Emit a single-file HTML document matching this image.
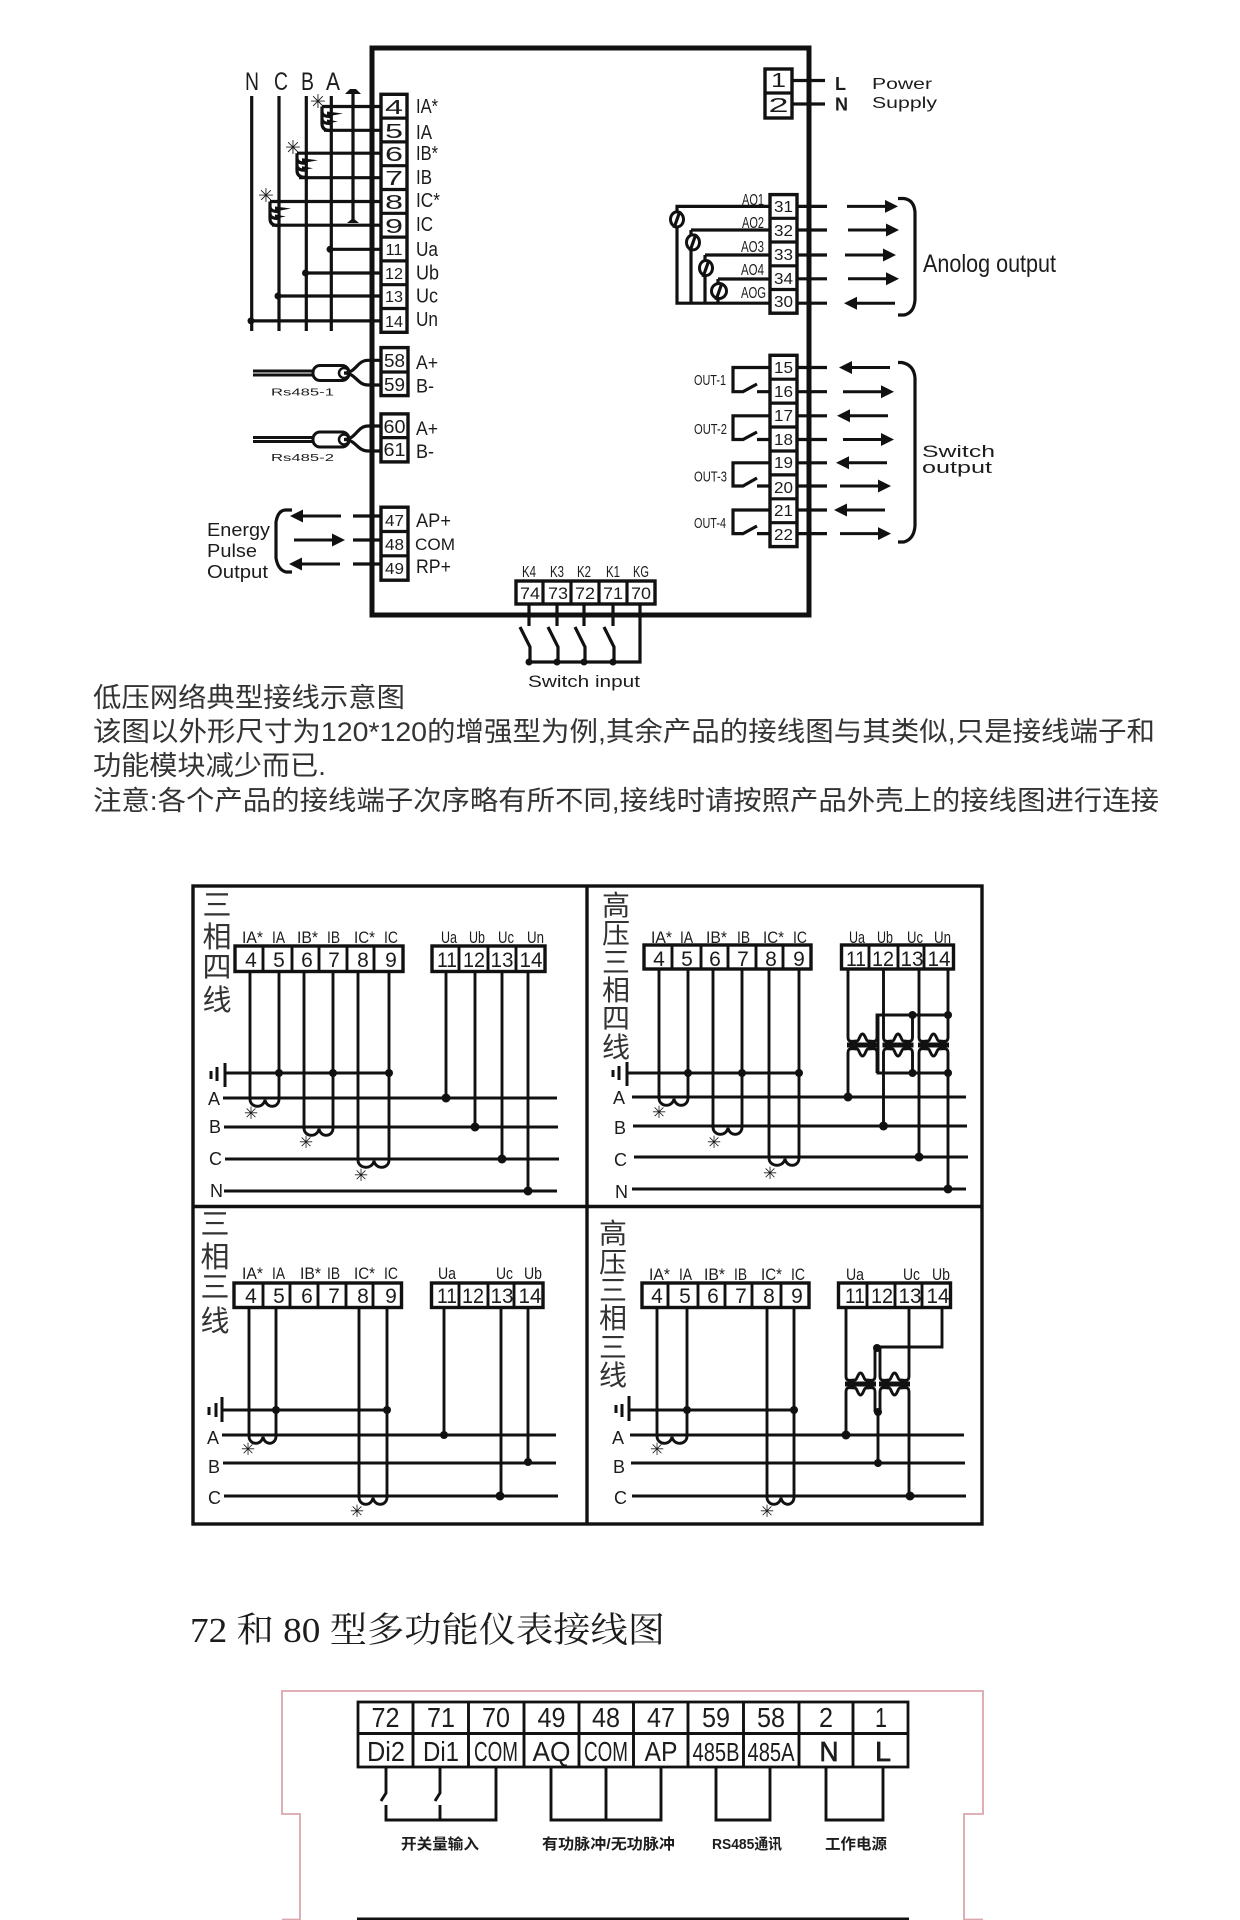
<!DOCTYPE html>
<html lang="zh">
<head>
<meta charset="utf-8">
<title>Wiring diagram</title>
<style>
html,body{margin:0;padding:0;background:#fff;width:1240px;height:1920px;overflow:hidden}
svg{display:block}
text{font-family:"Liberation Sans","Noto Sans CJK SC",sans-serif;fill:#1c1c1c}
.w{fill:none;stroke:#111;stroke-width:3.2}
.p{fill:none;stroke:#111;stroke-width:2.9}
.t{fill:#fff;stroke:#111;stroke-width:3.4}
.b{fill:#111;stroke:none}
.cj{font-family:"Liberation Sans","Noto Sans CJK SC",sans-serif;font-weight:400;fill:#333}
.m{text-anchor:middle}
</style>
</head>
<body>
<svg xmlns="http://www.w3.org/2000/svg" width="1240" height="1920" viewBox="0 0 1240 1920">
<defs>
<path id="ar" class="b" d="M0 -1.500H38V-6.500L51 0L38 6.500V1.500H0Z"/>
<path id="al" class="b" d="M0 -1.500H-38V-6.500L-51 0L-38 6.500V1.500H0Z"/>
<g id="coil"><path d="M0 0V17Q0 24 8 24" fill="none" stroke="#111" stroke-width="3.200"/><path d="M0 6Q1 10 8 10M0 13Q1 17 8 17" fill="none" stroke="#111" stroke-width="3.200"/><path class="b" d="M5 5L21 7L5 10Z"/><path class="b" d="M5 13L16 15L5 17Z"/></g>
<g id="pt"><path class="p" d="M0 -14V-8C0 -2 4 -4 9 -4C11 -4 12 -11 14.500 -11C17 -11 18 -4 20 -4C25 -4 29 -2 29 -8V-14"/><path class="p" d="M0 14V8C0 2 4 4 9 4C11 4 12 11 14.500 11C17 11 18 4 20 4C25 4 29 2 29 8V14"/><rect class="b" x="-1" y="-2.500" width="31" height="5"/></g>
<g id="rs"><path class="b" d="M0 -3.500H62V3.500H0Z"/><path d="M0 0H62" stroke="#fff" stroke-width="1"/><rect x="60" y="-7.500" width="36" height="15" rx="7" fill="#fff" stroke="#111" stroke-width="3"/><circle cx="91" cy="0" r="5" fill="#fff" stroke="#111" stroke-width="2.500"/></g>
</defs>

<!-- main box -->
<rect x="372" y="48" width="437" height="567" fill="#fff" stroke="#111" stroke-width="5"/>

<!-- phase labels -->
<text x="245" y="90" font-size="25" textLength="14" lengthAdjust="spacingAndGlyphs">N</text>
<text x="274" y="90" font-size="25" textLength="14" lengthAdjust="spacingAndGlyphs">C</text>
<text x="301" y="90" font-size="25" textLength="13" lengthAdjust="spacingAndGlyphs">B</text>
<text x="326" y="90" font-size="25" textLength="14" lengthAdjust="spacingAndGlyphs">A</text>

<!-- phase bus -->
<path class="w" d="M251.700 96V331M279 96V331M306.300 96V331M331.300 96V331"/>
<path class="w" d="M353 93V221"/>
<path class="b" d="M345 94L350 89H356L361 94Z"/>
<path class="b" d="M347 223L353 218L359 223Z"/>
<path class="w" d="M322 106.500H381M324 130.300H381M297 153.200H381M299 177.700H381M270 201.500H381M272 225.200H381"/>
<path class="w" d="M331 249.300H381M306 273H381M279 296H381M248 320.900H381"/>
<circle class="b" cx="330" cy="249.300" r="3.500"/><circle class="b" cx="305.500" cy="273" r="3.500"/><circle class="b" cx="278" cy="296" r="3.500"/><circle class="b" cx="251" cy="320.900" r="3.500"/>
<use href="#coil" x="322" y="106.500"/><use href="#coil" x="297" y="153.200"/><use href="#coil" x="270" y="201.500"/>
<text class="m" x="318" y="108" font-size="19" style="font-family:'DejaVu Sans',sans-serif">✳</text>
<text class="m" x="293" y="154" font-size="19" style="font-family:'DejaVu Sans',sans-serif">✳</text>
<text class="m" x="266" y="202" font-size="19" style="font-family:'DejaVu Sans',sans-serif">✳</text>

<!-- left terminals -->
<rect class="t" x="381" y="94.300" width="26" height="238"/>
<path class="w" d="M381 118.100H407M381 141.900H407M381 165.700H407M381 189.500H407M381 213.300H407M381 237.100H407M381 260.900H407M381 284.700H407M381 308.500H407"/>
<g font-size="20" class="m">
<text x="394" y="114" textLength="18" lengthAdjust="spacingAndGlyphs">4</text>
<text x="394" y="138" textLength="18" lengthAdjust="spacingAndGlyphs">5</text>
<text x="394" y="161" textLength="18" lengthAdjust="spacingAndGlyphs">6</text>
<text x="394" y="185" textLength="18" lengthAdjust="spacingAndGlyphs">7</text>
<text x="394" y="209" textLength="18" lengthAdjust="spacingAndGlyphs">8</text>
<text x="394" y="233" textLength="18" lengthAdjust="spacingAndGlyphs">9</text>
</g>
<g font-size="16" class="m">
<text x="394" y="255" textLength="17" lengthAdjust="spacingAndGlyphs">11</text>
<text x="394" y="279" textLength="18" lengthAdjust="spacingAndGlyphs">12</text>
<text x="394" y="302" textLength="18" lengthAdjust="spacingAndGlyphs">13</text>
<text x="394" y="327" textLength="18" lengthAdjust="spacingAndGlyphs">14</text>
</g>
<g font-size="20">
<text x="416" y="113" textLength="22" lengthAdjust="spacingAndGlyphs">IA*</text>
<text x="416" y="139" textLength="16" lengthAdjust="spacingAndGlyphs">IA</text>
<text x="416" y="160" textLength="22" lengthAdjust="spacingAndGlyphs">IB*</text>
<text x="416" y="184" textLength="16" lengthAdjust="spacingAndGlyphs">IB</text>
<text x="416" y="207" textLength="24" lengthAdjust="spacingAndGlyphs">IC*</text>
<text x="416" y="231" textLength="17" lengthAdjust="spacingAndGlyphs">IC</text>
<text x="416" y="256" textLength="22" lengthAdjust="spacingAndGlyphs">Ua</text>
<text x="416" y="279.500" textLength="23" lengthAdjust="spacingAndGlyphs">Ub</text>
<text x="416" y="302.500" textLength="22" lengthAdjust="spacingAndGlyphs">Uc</text>
<text x="416" y="326" textLength="22" lengthAdjust="spacingAndGlyphs">Un</text>
</g>

<!-- RS485 -->
<use href="#rs" x="253" y="373"/>
<path class="w" d="M344 373C356 373 357 360.300 368 360.300H381M344 373C356 373 357 385 368 385H381"/>
<use href="#rs" x="253" y="439.500"/>
<path class="w" d="M344 439.500C356 439.500 357 426 368 426H381M344 439.500C356 439.500 357 451 368 451H381"/>
<rect class="t" x="381" y="347.600" width="27" height="48"/><path class="w" d="M381 372H408"/>
<rect class="t" x="381" y="413.900" width="27" height="48"/><path class="w" d="M381 437.600H408"/>
<g font-size="18" class="m">
<text x="394.500" y="367" textLength="21" lengthAdjust="spacingAndGlyphs">58</text>
<text x="394.500" y="391" textLength="21" lengthAdjust="spacingAndGlyphs">59</text>
<text x="394.500" y="433" textLength="22" lengthAdjust="spacingAndGlyphs">60</text>
<text x="394.500" y="456" textLength="22" lengthAdjust="spacingAndGlyphs">61</text>
</g>
<g font-size="19">
<text x="416" y="369" textLength="22" lengthAdjust="spacingAndGlyphs">A+</text>
<text x="416" y="392.500" textLength="18" lengthAdjust="spacingAndGlyphs">B-</text>
<text x="416" y="435" textLength="22" lengthAdjust="spacingAndGlyphs">A+</text>
<text x="416" y="458" textLength="18" lengthAdjust="spacingAndGlyphs">B-</text>
</g>
<text x="271" y="395.500" font-size="10" textLength="63" lengthAdjust="spacingAndGlyphs">Rs485-1</text>
<text x="271" y="461" font-size="10" textLength="63" lengthAdjust="spacingAndGlyphs">Rs485-2</text>

<!-- energy pulse -->
<path class="w" d="M353 516H381M353 540H381M353 564H381"/>
<use href="#al" x="341" y="516"/><use href="#ar" x="294" y="540"/><use href="#al" x="340" y="564"/>
<path class="w" d="M292 510H286Q278 510 276 522V558Q278 570 286 572H292"/>
<rect class="t" x="381" y="507.200" width="27" height="73"/><path class="w" d="M381 531.500H408M381 555.800H408"/>
<g font-size="16" class="m">
<text x="394.500" y="526" textLength="19" lengthAdjust="spacingAndGlyphs">47</text>
<text x="394.500" y="550" textLength="19" lengthAdjust="spacingAndGlyphs">48</text>
<text x="394.500" y="574" textLength="19" lengthAdjust="spacingAndGlyphs">49</text>
</g>
<g font-size="19">
<text x="416" y="527" textLength="35" lengthAdjust="spacingAndGlyphs">AP+</text>
<text x="415" y="550" font-size="17" textLength="40" lengthAdjust="spacingAndGlyphs">COM</text>
<text x="416" y="573" textLength="35" lengthAdjust="spacingAndGlyphs">RP+</text>
</g>
<g font-size="18">
<text x="207" y="536" textLength="63" lengthAdjust="spacingAndGlyphs">Energy</text>
<text x="207" y="557" textLength="50" lengthAdjust="spacingAndGlyphs">Pulse</text>
<text x="207" y="578" textLength="61" lengthAdjust="spacingAndGlyphs">Output</text>
</g>

<!-- bottom terminals / switch input -->
<g font-size="16" class="m">
<text x="529" y="577" textLength="14" lengthAdjust="spacingAndGlyphs">K4</text>
<text x="557" y="577" textLength="14" lengthAdjust="spacingAndGlyphs">K3</text>
<text x="584" y="577" textLength="14" lengthAdjust="spacingAndGlyphs">K2</text>
<text x="613" y="577" textLength="14" lengthAdjust="spacingAndGlyphs">K1</text>
<text x="641" y="577" textLength="16" lengthAdjust="spacingAndGlyphs">KG</text>
</g>
<rect class="t" x="516" y="581" width="139" height="23"/>
<path class="w" d="M543 581V604M571 581V604M599 581V604M627 581V604"/>
<g font-size="17" class="m">
<text x="530" y="599" textLength="20" lengthAdjust="spacingAndGlyphs">74</text>
<text x="558" y="599" textLength="20" lengthAdjust="spacingAndGlyphs">73</text>
<text x="585" y="599" textLength="20" lengthAdjust="spacingAndGlyphs">72</text>
<text x="613" y="599" textLength="20" lengthAdjust="spacingAndGlyphs">71</text>
<text x="641" y="599" textLength="20" lengthAdjust="spacingAndGlyphs">70</text>
</g>
<path class="w" d="M529 604V626M557 604V626M584 604V626M613 604V626M640 604V662H529"/>
<path class="w" d="M520 627L530 647V662M548 627L558 647V662M575 627L585 647V662M604 627L614 647V662"/>
<circle class="b" cx="529" cy="662" r="3.500"/><circle class="b" cx="557" cy="662" r="3.500"/><circle class="b" cx="584" cy="662" r="3.500"/><circle class="b" cx="613" cy="662" r="3.500"/>
<text x="528" y="687" font-size="17" textLength="112" lengthAdjust="spacingAndGlyphs">Switch input</text>

<!-- power -->
<rect class="t" x="765" y="69" width="27" height="49"/><path class="w" d="M765 93H792"/>
<text class="m" x="778.500" y="87" font-size="20" textLength="15" lengthAdjust="spacingAndGlyphs">1</text>
<text class="m" x="778.500" y="112" font-size="20" textLength="20" lengthAdjust="spacingAndGlyphs">2</text>
<path class="w" d="M792 80.500H825M792 104H825"/>
<text x="835" y="90" font-size="18" font-weight="bold">L</text>
<text x="835" y="110.500" font-size="18" font-weight="bold">N</text>
<text x="872" y="89" font-size="16" textLength="60" lengthAdjust="spacingAndGlyphs">Power</text>
<text x="872" y="108" font-size="16" textLength="65" lengthAdjust="spacingAndGlyphs">Supply</text>

<!-- analog output -->
<path class="w" d="M770 206.400H677V303.200H770M691 230H770M691 230V303.200M705 255H770M705 255V303.200M718 279H770M718 279V303.200"/>
<g fill="#fff" stroke="#111" stroke-width="3"><ellipse cx="677" cy="219.400" rx="6.500" ry="7.500"/><ellipse cx="693" cy="242.400" rx="6.500" ry="7.500"/><ellipse cx="706" cy="268" rx="6.500" ry="7.500"/><ellipse cx="719" cy="291" rx="7.500" ry="7.500"/></g>
<path class="w" d="M680 211L674 228M696 234L690 251M709 260L703 277M722 283L716 300"/>
<g font-size="16">
<text x="742" y="205" textLength="22" lengthAdjust="spacingAndGlyphs">AO1</text>
<text x="742" y="228" textLength="22" lengthAdjust="spacingAndGlyphs">AO2</text>
<text x="741" y="252" textLength="23" lengthAdjust="spacingAndGlyphs">AO3</text>
<text x="741" y="275" textLength="23" lengthAdjust="spacingAndGlyphs">AO4</text>
<text x="741" y="298" textLength="25" lengthAdjust="spacingAndGlyphs">AOG</text>
</g>
<rect class="t" x="770" y="194.600" width="27" height="118.600"/>
<path class="w" d="M770 218.300H797M770 242H797M770 265.800H797M770 289.500H797"/>
<g font-size="16" class="m">
<text x="783.500" y="212" textLength="19" lengthAdjust="spacingAndGlyphs">31</text>
<text x="783.500" y="236" textLength="19" lengthAdjust="spacingAndGlyphs">32</text>
<text x="783.500" y="260" textLength="19" lengthAdjust="spacingAndGlyphs">33</text>
<text x="783.500" y="284" textLength="19" lengthAdjust="spacingAndGlyphs">34</text>
<text x="783.500" y="307" textLength="19" lengthAdjust="spacingAndGlyphs">30</text>
</g>
<path class="w" d="M797 206.400H827M797 230H827M797 255H827M797 278.800H827M797 303.200H827"/>
<use href="#ar" x="847" y="206.400"/><use href="#ar" x="848" y="230"/><use href="#ar" x="845" y="255"/><use href="#ar" x="848" y="278.800"/><use href="#al" x="895" y="303.200"/>
<path class="w" d="M898 198.500H904Q914 200 915 212V300Q914 313 904 315H898"/>
<text x="923" y="272" font-size="25" textLength="133" lengthAdjust="spacingAndGlyphs">Anolog output</text>

<!-- switch output -->
<path class="w" d="M770 367.500H733V391.700H743L757 384M757 391.700H770M770 415.800H733V439.500H743L757 432M757 439.500H770M770 462.800H733V486H743L757 478M757 486H770M770 510H733V533.600H743L757 526M757 533.600H770"/>
<g font-size="15">
<text x="694" y="385" textLength="32" lengthAdjust="spacingAndGlyphs">OUT-1</text>
<text x="694" y="434" textLength="33" lengthAdjust="spacingAndGlyphs">OUT-2</text>
<text x="694" y="481.500" textLength="33" lengthAdjust="spacingAndGlyphs">OUT-3</text>
<text x="694" y="528" textLength="32" lengthAdjust="spacingAndGlyphs">OUT-4</text>
</g>
<rect class="t" x="770" y="355.300" width="27" height="191.300"/>
<path class="w" d="M770 379.200H797M770 403.100H797M770 427H797M770 451H797M770 474.900H797M770 498.800H797M770 522.700H797"/>
<g font-size="16" class="m">
<text x="783.500" y="373" textLength="19" lengthAdjust="spacingAndGlyphs">15</text>
<text x="783.500" y="397" textLength="19" lengthAdjust="spacingAndGlyphs">16</text>
<text x="783.500" y="421" textLength="19" lengthAdjust="spacingAndGlyphs">17</text>
<text x="783.500" y="445" textLength="19" lengthAdjust="spacingAndGlyphs">18</text>
<text x="783.500" y="468" textLength="19" lengthAdjust="spacingAndGlyphs">19</text>
<text x="783.500" y="493" textLength="19" lengthAdjust="spacingAndGlyphs">20</text>
<text x="783.500" y="516" textLength="19" lengthAdjust="spacingAndGlyphs">21</text>
<text x="783.500" y="540" textLength="19" lengthAdjust="spacingAndGlyphs">22</text>
</g>
<path class="w" d="M797 367.500H827M797 391.700H827M797 415.800H827M797 439.500H827M797 462.800H827M797 486H827M797 510H827M797 533.600H827"/>
<use href="#al" x="890" y="367.500"/><use href="#ar" x="843" y="391.700"/><use href="#al" x="888" y="415.800"/><use href="#ar" x="843" y="439.500"/><use href="#al" x="887" y="462.800"/><use href="#ar" x="840" y="486"/><use href="#al" x="885" y="510"/><use href="#ar" x="840" y="533.600"/>
<path class="w" d="M898 362.500H902Q914 365 915 378V526Q914 539 904 542H898"/>
<text x="922" y="457" font-size="17" textLength="73" lengthAdjust="spacingAndGlyphs">Switch</text>
<text x="922" y="473" font-size="17" textLength="70" lengthAdjust="spacingAndGlyphs">output</text>

<!-- paragraph -->
<g class="cj" font-size="27">
<text class="cj" x="93" y="707" textLength="312" lengthAdjust="spacingAndGlyphs">低压网络典型接线示意图</text>
<text class="cj" x="93" y="741" textLength="1062" lengthAdjust="spacingAndGlyphs">该图以外形尺寸为120*120的增强型为例,其余产品的接线图与其类似,只是接线端子和</text>
<text class="cj" x="93" y="775" textLength="233" lengthAdjust="spacingAndGlyphs">功能模块减少而已.</text>
<text class="cj" x="93" y="810" textLength="1066" lengthAdjust="spacingAndGlyphs">注意:各个产品的接线端子次序略有所不同,接线时请按照产品外壳上的接线图进行连接</text>
</g>

<!-- panels frame -->
<rect x="193" y="886" width="789" height="638" fill="#fff" stroke="#111" stroke-width="3.400"/>
<path d="M193 1206.500H982M587 886V1524" stroke="#111" stroke-width="3.400" fill="none"/>

<!-- PANEL A -->
<g class="cj m" font-size="29">
<text class="cj m" x="217" y="915">三</text><text class="cj m" x="217" y="947">相</text><text class="cj m" x="217" y="977">四</text><text class="cj m" x="217" y="1010">线</text>
</g>
<g font-size="17">
<text x="242" y="943" textLength="21" lengthAdjust="spacingAndGlyphs">IA*</text><text x="272" y="943" textLength="13" lengthAdjust="spacingAndGlyphs">IA</text>
<text x="297" y="943" textLength="21" lengthAdjust="spacingAndGlyphs">IB*</text><text x="327" y="943" textLength="13" lengthAdjust="spacingAndGlyphs">IB</text>
<text x="354" y="943" textLength="21" lengthAdjust="spacingAndGlyphs">IC*</text><text x="384" y="943" textLength="14" lengthAdjust="spacingAndGlyphs">IC</text>
<text x="441" y="943" textLength="16" lengthAdjust="spacingAndGlyphs">Ua</text><text x="469" y="943" textLength="16" lengthAdjust="spacingAndGlyphs">Ub</text>
<text x="498" y="943" textLength="16" lengthAdjust="spacingAndGlyphs">Uc</text><text x="527" y="943" textLength="17" lengthAdjust="spacingAndGlyphs">Un</text>
</g>
<rect class="t" x="235" y="946" width="168" height="25.500"/><path class="p" d="M263 946V971M292 946V971M319 946V971M347 946V971M374 946V971"/>
<rect class="t" x="432" y="946" width="113" height="25.500"/><path class="p" d="M459 946V971M488 946V971M516 946V971"/>
<g font-size="21" class="m">
<text x="251" y="967">4</text><text x="279" y="967">5</text><text x="307" y="967">6</text><text x="334" y="967">7</text><text x="363" y="967">8</text><text x="391" y="967">9</text>
<text x="447" y="967" textLength="20" lengthAdjust="spacingAndGlyphs">11</text><text x="474" y="967" textLength="22" lengthAdjust="spacingAndGlyphs">12</text><text x="502" y="967" textLength="23" lengthAdjust="spacingAndGlyphs">13</text><text x="531" y="967" textLength="23" lengthAdjust="spacingAndGlyphs">14</text>
</g>
<path class="p" d="M225 1073H389M223 1098H557M224 1127H558M225 1159H559M224 1191H557"/>
<path class="p" style="stroke-width:3" d="M225 1063V1087M217 1067V1081M211 1071V1079"/>
<path class="p" d="M250 972V1099C250 1108 263 1109 265 1100C267 1109 279 1108 279 1099V972"/>
<path class="p" d="M304 972V1128C304 1137 317 1138 319 1129C321 1138 333 1137 333 1128V972"/>
<path class="p" d="M358 972V1160C358 1169 372 1170 374 1161C376 1170 389 1169 389 1160V972"/>
<path class="p" d="M446 972V1098M475 972V1127M502 972V1159M528 972V1191"/>
<g class="b"><circle cx="279" cy="1073" r="4"/><circle cx="333" cy="1073" r="4"/><circle cx="389" cy="1073" r="4"/><circle cx="446" cy="1098" r="4.500"/><circle cx="475" cy="1127" r="4.500"/><circle cx="502" cy="1159" r="4.500"/><circle cx="528" cy="1191" r="4.500"/></g>
<g font-size="17"><text class="m" style="font-family:'DejaVu Sans',sans-serif" x="251" y="1119">✳</text><text class="m" style="font-family:'DejaVu Sans',sans-serif" x="306" y="1148">✳</text><text class="m" style="font-family:'DejaVu Sans',sans-serif" x="361" y="1181">✳</text></g>
<g font-size="18"><text x="208" y="1105">A</text><text x="209" y="1133">B</text><text x="209" y="1165">C</text><text x="210" y="1197">N</text></g>

<!-- PANEL B -->
<g class="cj m" font-size="28">
<text class="cj m" x="616" y="915">高</text><text class="cj m" x="616" y="943">压</text><text class="cj m" x="616" y="972">三</text><text class="cj m" x="616" y="1000">相</text><text class="cj m" x="616" y="1028">四</text><text class="cj m" x="616" y="1057">线</text>
</g>
<g font-size="17">
<text x="651" y="943" textLength="21" lengthAdjust="spacingAndGlyphs">IA*</text><text x="680" y="943" textLength="13" lengthAdjust="spacingAndGlyphs">IA</text>
<text x="706" y="943" textLength="21" lengthAdjust="spacingAndGlyphs">IB*</text><text x="737" y="943" textLength="13" lengthAdjust="spacingAndGlyphs">IB</text>
<text x="763" y="943" textLength="21" lengthAdjust="spacingAndGlyphs">IC*</text><text x="793" y="943" textLength="14" lengthAdjust="spacingAndGlyphs">IC</text>
<text x="849" y="943" textLength="16" lengthAdjust="spacingAndGlyphs">Ua</text><text x="877" y="943" textLength="16" lengthAdjust="spacingAndGlyphs">Ub</text>
<text x="907" y="943" textLength="16" lengthAdjust="spacingAndGlyphs">Uc</text><text x="934" y="943" textLength="17" lengthAdjust="spacingAndGlyphs">Un</text>
</g>
<rect class="t" x="644" y="945" width="167" height="24"/><path class="p" d="M672 945V969M701 945V969M728 945V969M756 945V969M783 945V969"/>
<rect class="t" x="841.500" y="945" width="112" height="24"/><path class="p" d="M869 945V969M898 945V969M924 945V969"/>
<g font-size="21" class="m">
<text x="659" y="966">4</text><text x="687" y="966">5</text><text x="715" y="966">6</text><text x="743" y="966">7</text><text x="771" y="966">8</text><text x="799" y="966">9</text>
<text x="856" y="966" textLength="20" lengthAdjust="spacingAndGlyphs">11</text><text x="883" y="966" textLength="22" lengthAdjust="spacingAndGlyphs">12</text><text x="912" y="966" textLength="23" lengthAdjust="spacingAndGlyphs">13</text><text x="939" y="966" textLength="23" lengthAdjust="spacingAndGlyphs">14</text>
</g>
<path class="p" d="M628 1073H799M632 1097H966M633 1126H967M634 1157H968M632 1189H966"/>
<path class="p" style="stroke-width:3" d="M627 1062V1086M619 1066V1080M613 1070V1077"/>
<path class="p" d="M659 970V1098C659 1107 672 1108 674 1099C676 1108 688 1107 688 1098V970"/>
<path class="p" d="M713 970V1127C713 1136 726 1137 728 1128C730 1137 742 1136 742 1127V970"/>
<path class="p" d="M769 970V1158C769 1167 783 1168 785 1159C787 1168 799 1167 799 1158V970"/>
<use href="#pt" x="848" y="1045"/><use href="#pt" x="883.500" y="1045"/><use href="#pt" x="919" y="1045"/>
<path class="p" d="M848 969V1031M848 1059V1097M883.500 969V1031M883.500 1059V1126M919 969V1031M919 1059V1157M948 969V1031M948 1059V1189"/>
<path class="p" d="M877 1031V1015H948M912.500 1031V1015M878 1015V1073H948M912.500 1059V1073M877 1059V1073"/>
<g class="b"><circle cx="688" cy="1073" r="4"/><circle cx="742" cy="1073" r="4"/><circle cx="799" cy="1073" r="4"/><circle cx="848" cy="1097" r="4.500"/><circle cx="883.500" cy="1126" r="4.500"/><circle cx="919" cy="1157" r="4.500"/><circle cx="948" cy="1189" r="4.500"/><circle cx="912.500" cy="1015" r="4"/><circle cx="948" cy="1015" r="4"/><circle cx="912.500" cy="1073" r="4"/><circle cx="948" cy="1073" r="4"/></g>
<g font-size="17"><text class="m" style="font-family:'DejaVu Sans',sans-serif" x="659" y="1118">✳</text><text class="m" style="font-family:'DejaVu Sans',sans-serif" x="714" y="1148">✳</text><text class="m" style="font-family:'DejaVu Sans',sans-serif" x="770" y="1179">✳</text></g>
<g font-size="18"><text x="613" y="1104">A</text><text x="614" y="1134">B</text><text x="614" y="1166">C</text><text x="615" y="1198">N</text></g>

<!-- PANEL C -->
<g class="cj m" font-size="29">
<text class="cj m" x="215" y="1234">三</text><text class="cj m" x="215" y="1267">相</text><text class="cj m" x="215" y="1297">三</text><text class="cj m" x="215" y="1331">线</text>
</g>
<g font-size="17">
<text x="242" y="1279" textLength="21" lengthAdjust="spacingAndGlyphs">IA*</text><text x="272" y="1279" textLength="13" lengthAdjust="spacingAndGlyphs">IA</text>
<text x="300" y="1279" textLength="21" lengthAdjust="spacingAndGlyphs">IB*</text><text x="327" y="1279" textLength="13" lengthAdjust="spacingAndGlyphs">IB</text>
<text x="354" y="1279" textLength="21" lengthAdjust="spacingAndGlyphs">IC*</text><text x="384" y="1279" textLength="14" lengthAdjust="spacingAndGlyphs">IC</text>
<text x="438" y="1279" textLength="18" lengthAdjust="spacingAndGlyphs">Ua</text><text x="496" y="1279" textLength="17" lengthAdjust="spacingAndGlyphs">Uc</text><text x="524" y="1279" textLength="18" lengthAdjust="spacingAndGlyphs">Ub</text>
</g>
<rect class="t" x="234" y="1283" width="167.500" height="24.500"/><path class="p" d="M263 1283V1307M290 1283V1307M318 1283V1307M346 1283V1307M373 1283V1307"/>
<rect class="t" x="431.500" y="1283" width="111.500" height="24.500"/><path class="p" d="M459 1283V1307M488 1283V1307M514 1283V1307"/>
<g font-size="21" class="m">
<text x="251" y="1303">4</text><text x="279" y="1303">5</text><text x="307" y="1303">6</text><text x="334" y="1303">7</text><text x="363" y="1303">8</text><text x="391" y="1303">9</text>
<text x="447" y="1303" textLength="20" lengthAdjust="spacingAndGlyphs">11</text><text x="473" y="1303" textLength="22" lengthAdjust="spacingAndGlyphs">12</text><text x="502" y="1303" textLength="23" lengthAdjust="spacingAndGlyphs">13</text><text x="530" y="1303" textLength="23" lengthAdjust="spacingAndGlyphs">14</text>
</g>
<path class="p" d="M223 1410H387M222 1435H556M223 1463H556M224 1496H558"/>
<path class="p" style="stroke-width:3" d="M222 1397V1422M216 1403V1417M209 1407V1415"/>
<path class="p" d="M249 1308V1436C249 1445 261 1446 263 1437C265 1446 276 1445 276 1436V1308"/>
<path class="p" d="M359 1308V1497C359 1506 371 1507 373 1498C375 1507 387 1506 387 1497V1308"/>
<path class="p" d="M444 1308V1435M501 1308V1496M528 1308V1462"/>
<g class="b"><circle cx="276" cy="1410" r="4"/><circle cx="387" cy="1410" r="4"/><circle cx="444" cy="1435" r="4"/><circle cx="528" cy="1462" r="4"/><circle cx="500" cy="1496" r="4.500"/></g>
<g font-size="17"><text class="m" style="font-family:'DejaVu Sans',sans-serif" x="248" y="1455">✳</text><text class="m" style="font-family:'DejaVu Sans',sans-serif" x="357" y="1517">✳</text></g>
<g font-size="18"><text x="207" y="1444">A</text><text x="208" y="1473">B</text><text x="208" y="1504">C</text></g>

<!-- PANEL D -->
<g class="cj m" font-size="28">
<text class="cj m" x="613" y="1243">高</text><text class="cj m" x="613" y="1272">压</text><text class="cj m" x="613" y="1300">三</text><text class="cj m" x="613" y="1328">相</text><text class="cj m" x="613" y="1357">三</text><text class="cj m" x="613" y="1385">线</text>
</g>
<g font-size="17">
<text x="649" y="1280" textLength="21" lengthAdjust="spacingAndGlyphs">IA*</text><text x="679" y="1280" textLength="13" lengthAdjust="spacingAndGlyphs">IA</text>
<text x="704" y="1280" textLength="21" lengthAdjust="spacingAndGlyphs">IB*</text><text x="734" y="1280" textLength="13" lengthAdjust="spacingAndGlyphs">IB</text>
<text x="761" y="1280" textLength="21" lengthAdjust="spacingAndGlyphs">IC*</text><text x="791" y="1280" textLength="14" lengthAdjust="spacingAndGlyphs">IC</text>
<text x="846" y="1280" textLength="18" lengthAdjust="spacingAndGlyphs">Ua</text><text x="903" y="1280" textLength="17" lengthAdjust="spacingAndGlyphs">Uc</text><text x="932" y="1280" textLength="18" lengthAdjust="spacingAndGlyphs">Ub</text>
</g>
<rect class="t" x="642" y="1283" width="167" height="24.500"/><path class="p" d="M668 1283V1307M698 1283V1307M725 1283V1307M752 1283V1307M781 1283V1307"/>
<rect class="t" x="838.500" y="1283" width="112" height="24.500"/><path class="p" d="M867 1283V1307M895 1283V1307M922 1283V1307"/>
<g font-size="21" class="m">
<text x="657" y="1303">4</text><text x="685" y="1303">5</text><text x="713" y="1303">6</text><text x="741" y="1303">7</text><text x="769" y="1303">8</text><text x="797" y="1303">9</text>
<text x="855" y="1303" textLength="20" lengthAdjust="spacingAndGlyphs">11</text><text x="882" y="1303" textLength="22" lengthAdjust="spacingAndGlyphs">12</text><text x="910" y="1303" textLength="23" lengthAdjust="spacingAndGlyphs">13</text><text x="938" y="1303" textLength="23" lengthAdjust="spacingAndGlyphs">14</text>
</g>
<path class="p" d="M629 1410H794M630 1435H964M631 1463H965M632 1496H966"/>
<path class="p" style="stroke-width:3" d="M629 1396V1421M622 1404V1417M616 1405V1413"/>
<path class="p" d="M657 1308V1436C657 1445 670 1446 672 1437C674 1446 687 1445 687 1436V1308"/>
<path class="p" d="M767 1308V1497C767 1506 779 1507 781 1498C783 1507 794 1506 794 1497V1308"/>
<use href="#pt" x="846" y="1384"/><use href="#pt" x="880" y="1384"/>
<path class="p" d="M846 1308V1370M846 1398V1435M909 1308V1370M909 1398V1496M942 1308V1347H877M875 1347V1370M880 1347V1370M875 1398V1412M880 1398V1412M878 1412V1463"/>
<g class="b"><circle cx="687" cy="1410" r="4"/><circle cx="794" cy="1410" r="4"/><circle cx="877" cy="1348" r="4"/><circle cx="878" cy="1412" r="4"/><circle cx="846" cy="1435" r="4.500"/><circle cx="878" cy="1463" r="4"/><circle cx="910" cy="1496" r="4.500"/></g>
<g font-size="17"><text class="m" style="font-family:'DejaVu Sans',sans-serif" x="657" y="1455">✳</text><text class="m" style="font-family:'DejaVu Sans',sans-serif" x="767" y="1517">✳</text></g>
<g font-size="18"><text x="612" y="1444">A</text><text x="613" y="1473">B</text><text x="614" y="1504">C</text></g>

<!-- heading -->
<text x="190" y="1642" font-size="35" textLength="475" lengthAdjust="spacingAndGlyphs" style="font-family:'Liberation Serif','Noto Serif CJK SC',serif">72 和 80 型多功能仪表接线图</text>

<!-- bottom device -->
<path d="M300 1920V1814H282V1691H983V1814H964V1920" fill="none" stroke="#dba6ac" stroke-width="1.800"/>
<path d="M282 1919.500H300M964 1919.500H983" stroke="#dba6ac" stroke-width="1.800"/>
<rect x="358" y="1702" width="550" height="65" fill="#fff" stroke="#111" stroke-width="2.800"/>
<path class="p" d="M358 1733.500H908M413 1702V1767M468.500 1702V1767M524 1702V1767M579 1702V1767M633.500 1702V1767M688 1702V1767M743.500 1702V1767M799 1702V1767M853 1702V1767"/>
<g font-size="28" class="m">
<text x="385.500" y="1727" textLength="28" lengthAdjust="spacingAndGlyphs">72</text>
<text x="441" y="1727" textLength="28" lengthAdjust="spacingAndGlyphs">71</text>
<text x="496" y="1727" textLength="28" lengthAdjust="spacingAndGlyphs">70</text>
<text x="551.500" y="1727" textLength="28" lengthAdjust="spacingAndGlyphs">49</text>
<text x="606" y="1727" textLength="28" lengthAdjust="spacingAndGlyphs">48</text>
<text x="661" y="1727" textLength="28" lengthAdjust="spacingAndGlyphs">47</text>
<text x="716" y="1727" textLength="28" lengthAdjust="spacingAndGlyphs">59</text>
<text x="771" y="1727" textLength="28" lengthAdjust="spacingAndGlyphs">58</text>
<text x="826" y="1727" textLength="14" lengthAdjust="spacingAndGlyphs">2</text>
<text x="881" y="1727" textLength="12" lengthAdjust="spacingAndGlyphs">1</text>
</g>
<g font-size="28" class="m">
<text x="386" y="1761" textLength="38" lengthAdjust="spacingAndGlyphs">Di2</text>
<text x="441" y="1761" textLength="36" lengthAdjust="spacingAndGlyphs">Di1</text>
<text x="496" y="1761" textLength="44" lengthAdjust="spacingAndGlyphs">COM</text>
<text x="551.500" y="1761" textLength="38" lengthAdjust="spacingAndGlyphs">AQ</text>
<text x="606" y="1761" textLength="44" lengthAdjust="spacingAndGlyphs">COM</text>
<text x="661" y="1761" textLength="33" lengthAdjust="spacingAndGlyphs">AP</text>
<text x="716" y="1761" textLength="47" lengthAdjust="spacingAndGlyphs" font-size="26">485B</text>
<text x="771" y="1761" textLength="47" lengthAdjust="spacingAndGlyphs" font-size="26">485A</text>
<text x="829" y="1761" textLength="19" lengthAdjust="spacingAndGlyphs" stroke="#1c1c1c" stroke-width=".7">N</text>
<text x="883" y="1761" textLength="16" lengthAdjust="spacingAndGlyphs" stroke="#1c1c1c" stroke-width=".7">L</text>
</g>
<path class="p" d="M386 1767V1793L381 1801M386 1805V1820H496V1767M440 1767V1793L435 1801M440 1805V1820"/>
<path class="p" d="M551 1767V1820H661V1767M606 1767V1820M716 1767V1820H770V1767M826 1767V1820H883V1767"/>
<g font-size="15" font-weight="bold">
<text x="401" y="1849" textLength="78" lengthAdjust="spacingAndGlyphs">开关量输入</text>
<text x="542" y="1849" textLength="133" lengthAdjust="spacingAndGlyphs">有功脉冲/无功脉冲</text>
<text x="712" y="1849" textLength="70" lengthAdjust="spacingAndGlyphs">RS485通讯</text>
<text x="825" y="1849" textLength="62" lengthAdjust="spacingAndGlyphs">工作电源</text>
</g>
<rect class="b" x="357" y="1917.500" width="552" height="2.500"/>
</svg>
</body>
</html>
